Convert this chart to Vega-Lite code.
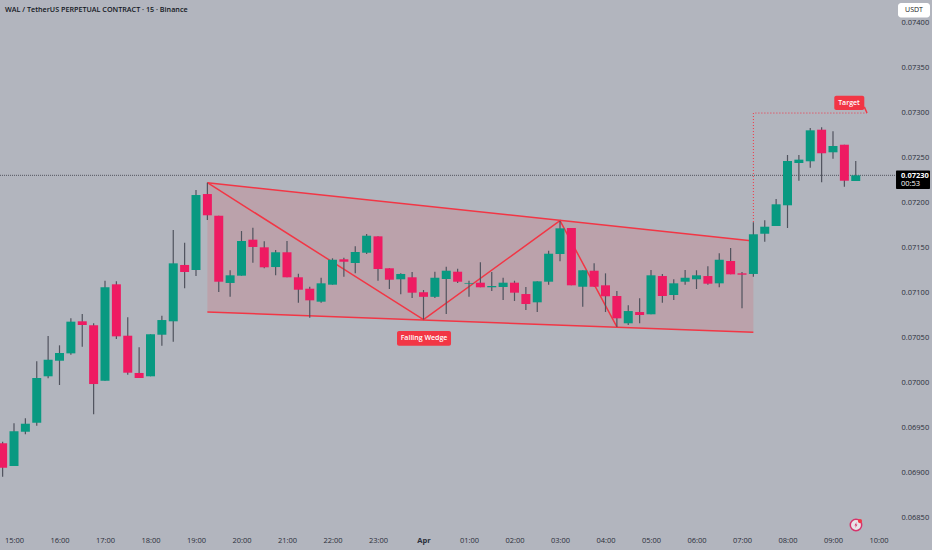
{
  "$schema": "https://vega.github.io/schema/vega-lite/v6.json",
  "description": "WAL/USDT 15 minute candles with a falling wedge and target. h is hours since 15:00 on 31 March.",
  "width": 932,
  "height": 550,
  "padding": 0,
  "autosize": "none",
  "background": "#b2b5be",
  "config": {"view": {"stroke": null}, "font": "Open Sans"},
  "datasets": {
    "candles": [
      {"h":-0.25,"open":0.069322,"high":0.069340,"low":0.068951,"close":0.069051},
      {"h":0,"open":0.069070,"high":0.069545,"low":0.069070,"close":0.069456},
      {"h":0.25,"open":0.069451,"high":0.069600,"low":0.069422,"close":0.069540},
      {"h":0.5,"open":0.069551,"high":0.070234,"low":0.069518,"close":0.070048},
      {"h":0.75,"open":0.070067,"high":0.070515,"low":0.070045,"close":0.070251},
      {"h":1,"open":0.070240,"high":0.070411,"low":0.069970,"close":0.070326},
      {"h":1.25,"open":0.070322,"high":0.070711,"low":0.070307,"close":0.070674},
      {"h":1.5,"open":0.070678,"high":0.070759,"low":0.070396,"close":0.070637},
      {"h":1.75,"open":0.070634,"high":0.070656,"low":0.069645,"close":0.069981},
      {"h":2,"open":0.070018,"high":0.071129,"low":0.070018,"close":0.071056},
      {"h":2.25,"open":0.071089,"high":0.071122,"low":0.070481,"close":0.070511},
      {"h":2.5,"open":0.070518,"high":0.070722,"low":0.070085,"close":0.070107},
      {"h":2.75,"open":0.070104,"high":0.070389,"low":0.070048,"close":0.070048},
      {"h":3,"open":0.070067,"high":0.070534,"low":0.070067,"close":0.070534},
      {"h":3.25,"open":0.070529,"high":0.070740,"low":0.070407,"close":0.070692},
      {"h":3.5,"open":0.070678,"high":0.071692,"low":0.070451,"close":0.071322},
      {"h":3.75,"open":0.071304,"high":0.071551,"low":0.071045,"close":0.071226},
      {"h":4,"open":0.071248,"high":0.072137,"low":0.071181,"close":0.072081},
      {"h":4.25,"open":0.072092,"high":0.072218,"low":0.071804,"close":0.071856},
      {"h":4.5,"open":0.071851,"high":0.071851,"low":0.071004,"close":0.071118},
      {"h":4.75,"open":0.071104,"high":0.071245,"low":0.070951,"close":0.071189},
      {"h":5,"open":0.071185,"high":0.071681,"low":0.071185,"close":0.071570},
      {"h":5.25,"open":0.071585,"high":0.071718,"low":0.071329,"close":0.071504},
      {"h":5.5,"open":0.071500,"high":0.071567,"low":0.071267,"close":0.071278},
      {"h":5.75,"open":0.071281,"high":0.071470,"low":0.071189,"close":0.071445},
      {"h":6,"open":0.071445,"high":0.071570,"low":0.071167,"close":0.071167},
      {"h":6.25,"open":0.071167,"high":0.071207,"low":0.070885,"close":0.071029},
      {"h":6.5,"open":0.071040,"high":0.071062,"low":0.070718,"close":0.070911},
      {"h":6.75,"open":0.070896,"high":0.071162,"low":0.070885,"close":0.071100},
      {"h":7,"open":0.071085,"high":0.071378,"low":0.071085,"close":0.071362},
      {"h":7.25,"open":0.071367,"high":0.071385,"low":0.071174,"close":0.071340},
      {"h":7.5,"open":0.071326,"high":0.071511,"low":0.071211,"close":0.071448},
      {"h":7.75,"open":0.071440,"high":0.071648,"low":0.071426,"close":0.071629},
      {"h":8,"open":0.071622,"high":0.071622,"low":0.071129,"close":0.071259},
      {"h":8.25,"open":0.071267,"high":0.071267,"low":0.071037,"close":0.071140},
      {"h":8.5,"open":0.071145,"high":0.071211,"low":0.070978,"close":0.071204},
      {"h":8.75,"open":0.071167,"high":0.071226,"low":0.070937,"close":0.070996},
      {"h":9,"open":0.071001,"high":0.071026,"low":0.070698,"close":0.070950},
      {"h":9.25,"open":0.070950,"high":0.071229,"low":0.070937,"close":0.071162},
      {"h":9.5,"open":0.071148,"high":0.071285,"low":0.070759,"close":0.071240},
      {"h":9.75,"open":0.071229,"high":0.071262,"low":0.071104,"close":0.071118},
      {"h":10,"open":0.071096,"high":0.071129,"low":0.070951,"close":0.071104},
      {"h":10.25,"open":0.071107,"high":0.071334,"low":0.071056,"close":0.071056},
      {"h":10.5,"open":0.071056,"high":0.071226,"low":0.071015,"close":0.071070},
      {"h":10.75,"open":0.071059,"high":0.071162,"low":0.070915,"close":0.071107},
      {"h":11,"open":0.071107,"high":0.071129,"low":0.070904,"close":0.070996},
      {"h":11.25,"open":0.070981,"high":0.071059,"low":0.070804,"close":0.070870},
      {"h":11.5,"open":0.070889,"high":0.071122,"low":0.070781,"close":0.071122},
      {"h":11.75,"open":0.071118,"high":0.071462,"low":0.071085,"close":0.071429},
      {"h":12,"open":0.071426,"high":0.071792,"low":0.071345,"close":0.071711},
      {"h":12.25,"open":0.071715,"high":0.071715,"low":0.071078,"close":0.071078},
      {"h":12.5,"open":0.071062,"high":0.071245,"low":0.070840,"close":0.071245},
      {"h":12.75,"open":0.071240,"high":0.071322,"low":0.071062,"close":0.071062},
      {"h":13,"open":0.071078,"high":0.071211,"low":0.070781,"close":0.070956},
      {"h":13.25,"open":0.070959,"high":0.071015,"low":0.070615,"close":0.070711},
      {"h":13.5,"open":0.070656,"high":0.070856,"low":0.070637,"close":0.070792},
      {"h":13.75,"open":0.070781,"high":0.070934,"low":0.070656,"close":0.070748},
      {"h":14,"open":0.070756,"high":0.071248,"low":0.070756,"close":0.071189},
      {"h":14.25,"open":0.071181,"high":0.071204,"low":0.070885,"close":0.070959},
      {"h":14.5,"open":0.070970,"high":0.071145,"low":0.070915,"close":0.071100},
      {"h":14.75,"open":0.071118,"high":0.071248,"low":0.071085,"close":0.071162},
      {"h":15,"open":0.071145,"high":0.071245,"low":0.071037,"close":0.071189},
      {"h":15.25,"open":0.071181,"high":0.071289,"low":0.071085,"close":0.071096},
      {"h":15.5,"open":0.071100,"high":0.071434,"low":0.071056,"close":0.071362},
      {"h":15.75,"open":0.071348,"high":0.071492,"low":0.071200,"close":0.071200},
      {"h":16,"open":0.071211,"high":0.071226,"low":0.070822,"close":0.071196},
      {"h":16.25,"open":0.071204,"high":0.071778,"low":0.071174,"close":0.071645},
      {"h":16.5,"open":0.071651,"high":0.071800,"low":0.071562,"close":0.071729},
      {"h":16.75,"open":0.071737,"high":0.072037,"low":0.071737,"close":0.071978},
      {"h":17,"open":0.071967,"high":0.072526,"low":0.071715,"close":0.072459},
      {"h":17.25,"open":0.072437,"high":0.072526,"low":0.072240,"close":0.072474},
      {"h":17.5,"open":0.072456,"high":0.072826,"low":0.072385,"close":0.072800},
      {"h":17.75,"open":0.072807,"high":0.072834,"low":0.072222,"close":0.072545},
      {"h":18,"open":0.072556,"high":0.072789,"low":0.072485,"close":0.072626},
      {"h":18.25,"open":0.072640,"high":0.072640,"low":0.072174,"close":0.072240},
      {"h":18.5,"open":0.072237,"high":0.072459,"low":0.072237,"close":0.072300}
    ],
    "wedgeBand": [
      {"h":4.25,"top":0.072218,"bottom":0.070781},
      {"h":16.25,"top":0.071570,"bottom":0.070556}
    ],
    "wedgeLines": [
      {"leg":"upper","h":4.25,"p":0.072218},
      {"leg":"upper","h":16.25,"p":0.071570},
      {"leg":"lower","h":4.25,"p":0.070781},
      {"leg":"lower","h":16.25,"p":0.070556},
      {"leg":"zigzag","h":4.25,"p":0.072218},
      {"leg":"zigzag","h":9,"p":0.070696},
      {"leg":"zigzag","h":12,"p":0.071796},
      {"leg":"zigzag","h":13.25,"p":0.070615}
    ],
    "lastLine": [{"h":-0.3077,"h2":19.385,"p":0.0723}],
    "targetPath": [
      {"h":16.25,"p":0.071781},
      {"h":16.25,"p":0.072992},
      {"h":18.747,"p":0.072992}
    ],
    "targetTail": [
      {"h":18.688,"p":0.073060},
      {"h":18.747,"p":0.072992}
    ],
    "redTags": [
      {"h":8.418,"h2":9.605,"p":0.070570,"p2":0.070407},
      {"h":18.028,"h2":18.688,"p":0.073185,"p2":0.073026}
    ],
    "redTagText": [
      {"h":9.011,"p":0.070489,"label":"Falling Wedge"},
      {"h":18.352,"p":0.073104,"label":"Target"}
    ],
    "header": [{"h":-0.198,"p":0.074137,"label":"WAL / TetherUS PERPETUAL CONTRACT · 15 · Binance"}],
    "lastPrice": [{"h":19.385,"h2":20.132,"p":0.072354,"p2":0.072148}],
    "lastPriceText": [{"h":19.495,"p":0.072296,"label":"0.07230"}],
    "countdownText": [{"h":19.495,"p":0.072200,"label":"00:53"}],
    "currency": [{"h":19.429,"h2":20.132,"p":0.074215,"p2":0.074054}],
    "currencyText": [{"h":19.78,"p":0.074137,"label":"USDT"}],
    "logo": [{"h":18.505,"p":0.068415}],
    "logoDot": [{"h":18.593,"p":0.068459}]
  },
  "layer": [
    {
      "data": {"name": "wedgeBand"},
      "mark": {"type": "area", "color": "#f23645", "opacity": 0.15},
      "encoding": {
        "x": {
          "field": "h",
          "type": "quantitative",
          "title": null,
          "scale": {"domain": [-0.30769, 20.17582], "nice": false, "zero": false, "padding": 0},
          "axis": {
            "orient": "bottom",
            "offset": -14,
            "domain": false,
            "ticks": false,
            "grid": false,
            "values": [0,1,2,3,4,5,6,7,8,9,10,11,12,13,14,15,16,17,18,19],
            "labelPadding": 0,
            "labelFlush": false,
            "labelOverlap": false,
            "labelFontSize": 7.5,
            "labelColor": "#2a2e39",
            "labelFontWeight": {"condition": {"test": "datum.value == 9", "value": "bold"}, "value": "normal"},
            "labelExpr": "datum.value == 9 ? 'Apr' : format((15 + datum.value) % 24, '02d') + ':00'"
          }
        },
        "y": {
          "field": "top",
          "type": "quantitative",
          "title": null,
          "scale": {"domain": [0.068137, 0.074248], "nice": false, "zero": false},
          "axis": {
            "orient": "right",
            "offset": -33,
            "domain": false,
            "ticks": false,
            "grid": false,
            "values": [0.0685, 0.069, 0.0695, 0.07, 0.0705, 0.071, 0.0715, 0.072, 0.0725, 0.073, 0.0735, 0.074],
            "format": ".5f",
            "labelPadding": 2,
            "labelFontSize": 7.5,
            "labelColor": "#2a2e39",
            "labelOverlap": false,
            "labelFlush": false
          }
        },
        "y2": {"field": "bottom"}
      }
    },
    {
      "data": {"name": "wedgeLines"},
      "mark": {"type": "line", "color": "#f23645", "strokeWidth": 1.5},
      "encoding": {
        "x": {"field": "h", "type": "quantitative", "title": null},
        "y": {"field": "p", "type": "quantitative", "title": null},
        "detail": {"field": "leg"}
      }
    },
    {
      "data": {"name": "lastLine"},
      "mark": {"type": "rule", "color": "#50535e", "strokeWidth": 1, "strokeDash": [1, 1]},
      "encoding": {
        "x": {"field": "h", "type": "quantitative", "title": null},
        "x2": {"field": "h2"},
        "y": {"field": "p", "type": "quantitative", "title": null}
      }
    },
    {
      "data": {"name": "candles"},
      "mark": {"type": "rule", "color": "#50535e", "strokeWidth": 1.2},
      "encoding": {
        "x": {"field": "h", "type": "quantitative", "title": null},
        "y": {"field": "high", "type": "quantitative", "title": null},
        "y2": {"field": "low"}
      }
    },
    {
      "data": {"name": "candles"},
      "mark": {"type": "bar", "size": 9},
      "encoding": {
        "x": {"field": "h", "type": "quantitative", "title": null, "scale": {"padding": 0}},
        "y": {"field": "open", "type": "quantitative", "title": null},
        "y2": {"field": "close"},
        "color": {
          "condition": {"test": "datum.open < datum.close", "value": "#089981"},
          "value": "#ee1b62"
        }
      }
    },
    {
      "data": {"name": "targetPath"},
      "mark": {"type": "line", "color": "#f23645", "strokeWidth": 1, "strokeDash": [1, 2]},
      "encoding": {
        "x": {"field": "h", "type": "quantitative", "title": null},
        "y": {"field": "p", "type": "quantitative", "title": null}
      }
    },
    {
      "data": {"name": "targetTail"},
      "mark": {"type": "line", "color": "#f23645", "strokeWidth": 1.5},
      "encoding": {
        "x": {"field": "h", "type": "quantitative", "title": null},
        "y": {"field": "p", "type": "quantitative", "title": null}
      }
    },
    {
      "data": {"name": "redTags"},
      "mark": {"type": "rect", "color": "#f23645", "cornerRadius": 2},
      "encoding": {
        "x": {"field": "h", "type": "quantitative", "title": null},
        "x2": {"field": "h2"},
        "y": {"field": "p", "type": "quantitative", "title": null},
        "y2": {"field": "p2"}
      }
    },
    {
      "data": {"name": "redTagText"},
      "mark": {"type": "text", "color": "#ffffff", "fontSize": 7, "fontWeight": 600, "align": "center", "baseline": "middle"},
      "encoding": {
        "x": {"field": "h", "type": "quantitative", "title": null},
        "y": {"field": "p", "type": "quantitative", "title": null},
        "text": {"field": "label"}
      }
    },
    {
      "data": {"name": "header"},
      "mark": {"type": "text", "color": "#131722", "fontSize": 7.2, "fontWeight": 600, "align": "left", "baseline": "middle"},
      "encoding": {
        "x": {"field": "h", "type": "quantitative", "title": null},
        "y": {"field": "p", "type": "quantitative", "title": null},
        "text": {"field": "label"}
      }
    },
    {
      "data": {"name": "lastPrice"},
      "mark": {"type": "rect", "color": "#000000", "cornerRadius": 1},
      "encoding": {
        "x": {"field": "h", "type": "quantitative", "title": null},
        "x2": {"field": "h2"},
        "y": {"field": "p", "type": "quantitative", "title": null},
        "y2": {"field": "p2"}
      }
    },
    {
      "data": {"name": "lastPriceText"},
      "mark": {"type": "text", "color": "#ffffff", "fontSize": 7.5, "fontWeight": 700, "align": "left", "baseline": "middle"},
      "encoding": {
        "x": {"field": "h", "type": "quantitative", "title": null},
        "y": {"field": "p", "type": "quantitative", "title": null},
        "text": {"field": "label"}
      }
    },
    {
      "data": {"name": "countdownText"},
      "mark": {"type": "text", "color": "#ffffff", "fontSize": 7.5, "align": "left", "baseline": "middle"},
      "encoding": {
        "x": {"field": "h", "type": "quantitative", "title": null},
        "y": {"field": "p", "type": "quantitative", "title": null},
        "text": {"field": "label"}
      }
    },
    {
      "data": {"name": "currency"},
      "mark": {"type": "rect", "color": "#ffffff", "cornerRadius": 3},
      "encoding": {
        "x": {"field": "h", "type": "quantitative", "title": null},
        "x2": {"field": "h2"},
        "y": {"field": "p", "type": "quantitative", "title": null},
        "y2": {"field": "p2"}
      }
    },
    {
      "data": {"name": "currencyText"},
      "mark": {"type": "text", "color": "#131722", "fontSize": 7, "align": "center", "baseline": "middle"},
      "encoding": {
        "x": {"field": "h", "type": "quantitative", "title": null},
        "y": {"field": "p", "type": "quantitative", "title": null},
        "text": {"field": "label"}
      }
    },
    {
      "data": {"name": "logo"},
      "mark": {"type": "point", "shape": "circle", "size": 130, "filled": true, "fill": "#e8e4e8", "stroke": "#d6336c", "strokeWidth": 1.5, "opacity": 1},
      "encoding": {
        "x": {"field": "h", "type": "quantitative", "title": null},
        "y": {"field": "p", "type": "quantitative", "title": null}
      }
    },
    {
      "data": {"name": "logo"},
      "mark": {"type": "point", "shape": "M0.2,-1L-0.5,0.15H-0.05L-0.25,1L0.5,-0.2H0.05Z", "size": 35, "filled": true, "fill": "#d6336c", "opacity": 1},
      "encoding": {
        "x": {"field": "h", "type": "quantitative", "title": null},
        "y": {"field": "p", "type": "quantitative", "title": null}
      }
    },
    {
      "data": {"name": "logoDot"},
      "mark": {"type": "point", "shape": "circle", "size": 18, "filled": true, "fill": "#f23645", "opacity": 1},
      "encoding": {
        "x": {"field": "h", "type": "quantitative", "title": null},
        "y": {"field": "p", "type": "quantitative", "title": null}
      }
    }
  ]
}
